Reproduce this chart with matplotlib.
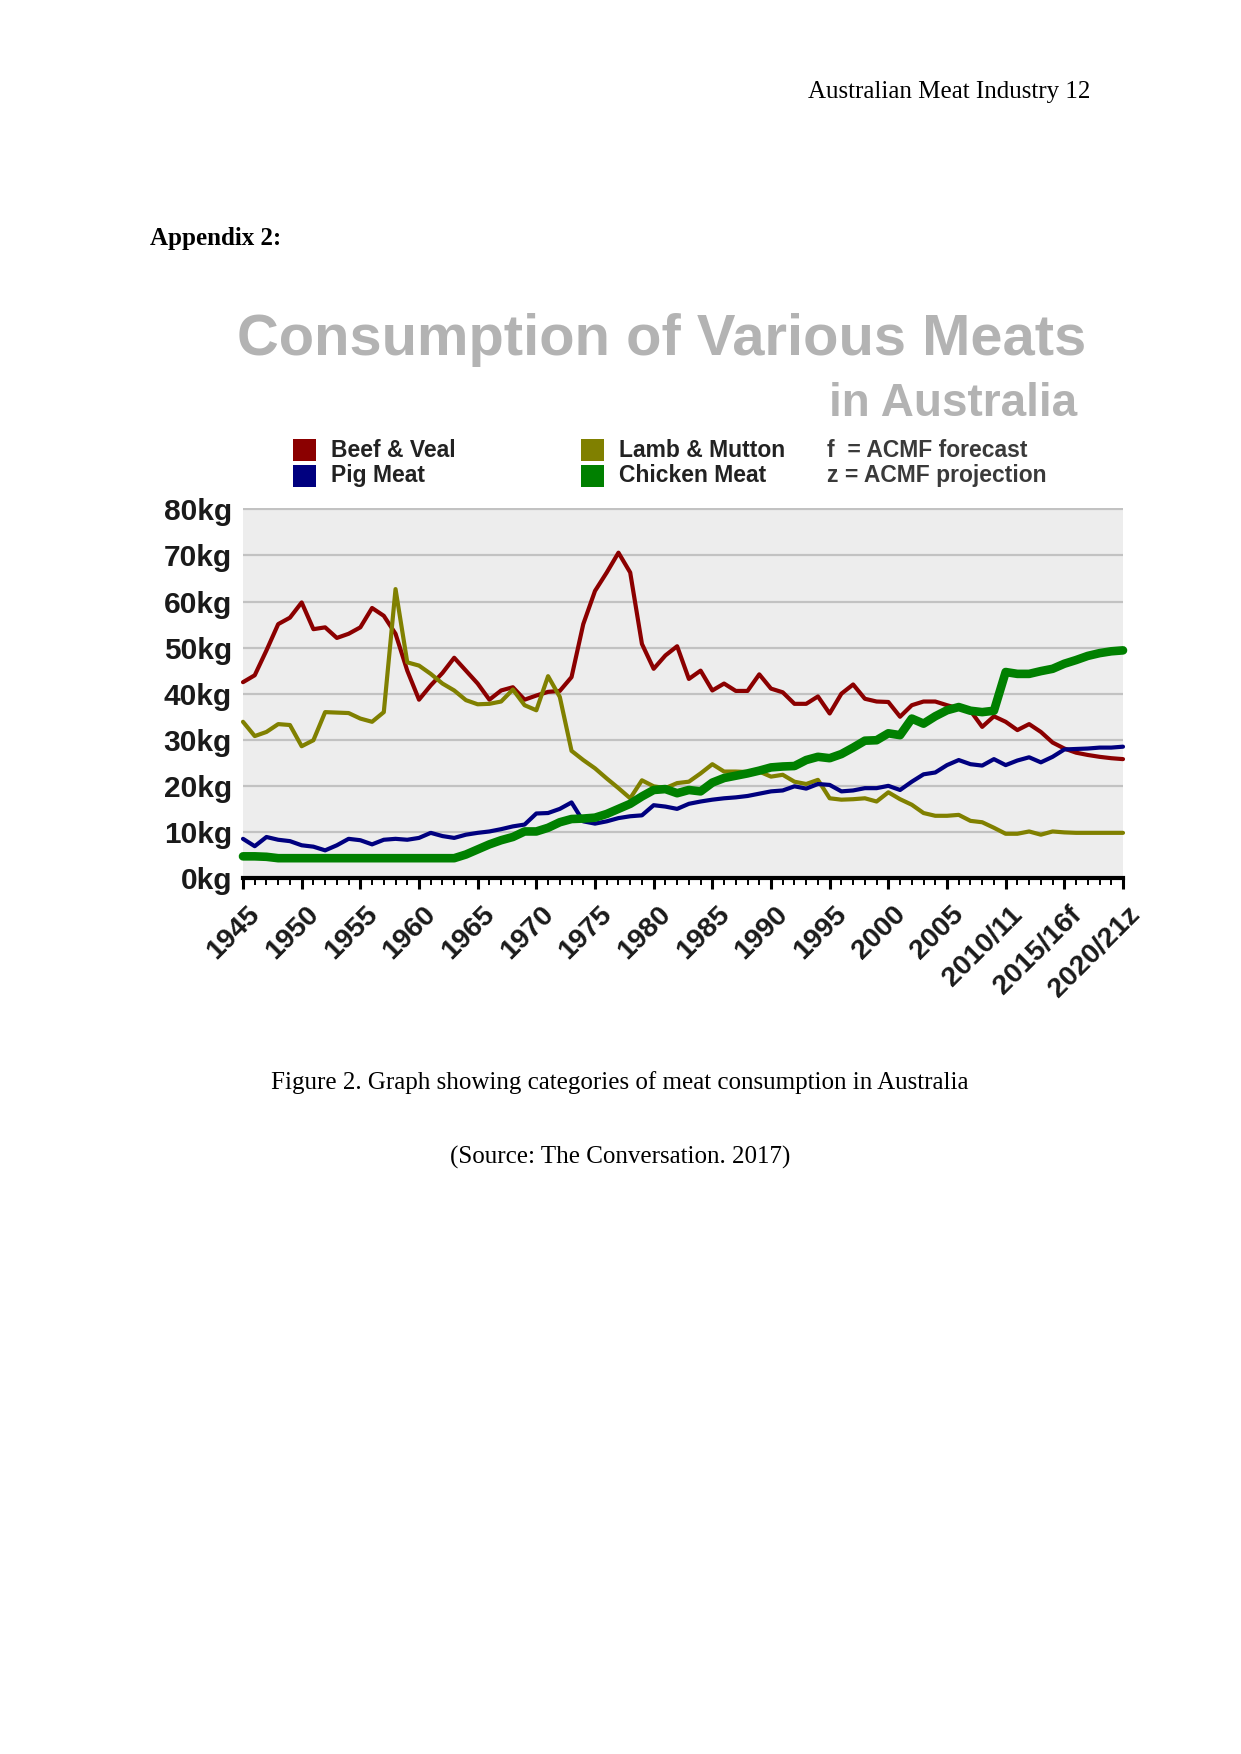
import matplotlib
matplotlib.use("Agg")
import matplotlib.pyplot as plt
from matplotlib.ticker import MultipleLocator
from matplotlib.patches import Rectangle
import matplotlib.transforms as mtransforms

# per capita consumption (kg), 1945 .. 2020/21
years = list(range(1945, 2021))

beef = [42.5, 44.0, 49.4, 55.1, 56.5, 59.8, 54.0, 54.4, 52.1, 53.0,
        54.4, 58.6, 56.9, 53.0, 45.0, 38.7, 41.8, 44.5, 47.8, 45.0,
        42.2, 38.7, 40.7, 41.4, 38.7, 39.6, 40.4, 40.6, 43.6, 55.1,
        62.3, 66.3, 70.6, 66.3, 50.8, 45.4, 48.3, 50.3, 43.2, 45.0,
        40.7, 42.2, 40.6, 40.6, 44.2, 41.1, 40.3, 37.8, 37.8, 39.4,
        35.7, 40.0, 42.0, 38.9, 38.3, 38.2, 35.0, 37.5, 38.3, 38.3,
        37.5, 36.8, 36.3, 32.8, 35.1, 33.9, 32.1, 33.4, 31.7, 29.4,
        28.1, 27.2, 26.7, 26.3, 26.0, 25.8]

lamb = [33.9, 30.8, 31.7, 33.4, 33.2, 28.6, 29.9, 36.0, 35.9, 35.8,
        34.6, 33.9, 36.0, 62.7, 46.8, 46.1, 44.3, 42.2, 40.7, 38.6,
        37.7, 37.8, 38.3, 40.9, 37.5, 36.4, 43.8, 39.3, 27.6, 25.6,
        23.8, 21.6, 19.5, 17.3, 21.2, 19.9, 19.5, 20.6, 20.9, 22.7,
        24.7, 23.1, 23.1, 23.0, 23.1, 22.0, 22.4, 20.9, 20.4, 21.3,
        17.3, 17.0, 17.1, 17.3, 16.6, 18.6, 17.1, 15.9, 14.1, 13.5,
        13.5, 13.7, 12.4, 12.1, 10.9, 9.6, 9.6, 10.1, 9.4, 10.1,
        9.9, 9.8, 9.8, 9.8, 9.8, 9.8]

pig = [8.5, 6.9, 8.9, 8.3, 8.0, 7.1, 6.8, 6.0, 7.1, 8.5,
       8.2, 7.3, 8.3, 8.5, 8.3, 8.7, 9.8, 9.1, 8.7, 9.4,
       9.8, 10.1, 10.6, 11.2, 11.6, 14.0, 14.1, 15.0, 16.4, 12.3,
       11.8, 12.3, 13.0, 13.4, 13.6, 15.8, 15.5, 15.0, 16.1, 16.6,
       17.0, 17.3, 17.5, 17.8, 18.3, 18.8, 19.0, 19.9, 19.4, 20.4,
       20.2, 18.8, 19.0, 19.5, 19.5, 20.0, 19.1, 20.9, 22.5, 22.9,
       24.5, 25.6, 24.7, 24.4, 25.8, 24.5, 25.5, 26.2, 25.1, 26.3,
       27.9, 28.0, 28.1, 28.3, 28.3, 28.5]

chicken = [4.7, 4.7, 4.6, 4.3, 4.3, 4.3, 4.3, 4.3, 4.3, 4.3,
           4.3, 4.3, 4.3, 4.3, 4.3, 4.3, 4.3, 4.3, 4.3, 5.1,
           6.2, 7.3, 8.2, 8.9, 10.1, 10.1, 10.9, 12.1, 12.8, 12.9,
           13.1, 13.9, 15.0, 16.1, 17.7, 19.1, 19.3, 18.4, 19.1, 18.8,
           20.7, 21.7, 22.2, 22.7, 23.3, 24.0, 24.2, 24.3, 25.6, 26.3,
           26.0, 26.9, 28.3, 29.8, 29.9, 31.4, 31.0, 34.6, 33.5, 35.1,
           36.4, 37.1, 36.3, 36.0, 36.3, 44.7, 44.3, 44.3, 44.9, 45.4,
           46.5, 47.3, 48.2, 48.8, 49.2, 49.4]

tick_years = list(range(1945, 2021, 5))
tick_labels = ["1945", "1950", "1955", "1960", "1965", "1970", "1975", "1980",
               "1985", "1990", "1995", "2000", "2005", "2010/11", "2015/16f", "2020/21z"]
y_ticks = [0, 10, 20, 30, 40, 50, 60, 70, 80]

W, H = 1241, 1754
SANS = "Liberation Sans"
SERIF = "Liberation Serif"


def fx(x):
    return x / W


def fy(y):
    return 1 - y / H


fig = plt.figure(figsize=(W / 100, H / 100), dpi=100)
fig.patch.set_facecolor("white")

# page text
fig.text(fx(1090), fy(92), "Australian Meat Industry 12", ha="right", va="center",
         family=SERIF, fontsize=18, color="black")
fig.text(fx(150), fy(239), "Appendix 2:", ha="left", va="center",
         family=SERIF, fontsize=18, fontweight="bold", color="black")
fig.text(fx(620), fy(1083), "Figure 2. Graph showing categories of meat consumption in Australia",
         ha="center", va="center", family=SERIF, fontsize=18, color="black")
fig.text(fx(620), fy(1157), "(Source: The Conversation. 2017)",
         ha="center", va="center", family=SERIF, fontsize=18, color="black")

# chart title
fig.text(fx(237), fy(340), "Consumption of Various Meats", ha="left", va="center",
         family=SANS, fontsize=41.7, fontweight="bold", color="#b3b3b3")
fig.text(fx(1077), fy(404), "in Australia", ha="right", va="center",
         family=SANS, fontsize=33, fontweight="bold", color="#b3b3b3")

# legend (drawn by hand like the original graphic)
legend_items = [
    ("Beef & Veal", "#8b0000", 293, 450),
    ("Pig Meat", "#00007f", 293, 476),
    ("Lamb & Mutton", "#808000", 581, 450),
    ("Chicken Meat", "#008000", 581, 476),
]
for label, col, lx, ly in legend_items:
    fig.patches.append(Rectangle((fx(lx), fy(ly + 11)), 23 / W, 22 / H,
                                 transform=fig.transFigure, facecolor=col,
                                 edgecolor="none"))
    fig.text(fx(lx + 38), fy(ly), label, ha="left", va="center", family=SANS,
             fontsize=16.5, fontweight="bold", color="#222222")
fig.text(fx(827), fy(450), "f  = ACMF forecast", ha="left", va="center", family=SANS,
         fontsize=16.5, fontweight="bold", color="#3a3a3a")
fig.text(fx(827), fy(476), "z = ACMF projection", ha="left", va="center", family=SANS,
         fontsize=16.5, fontweight="bold", color="#3a3a3a")

# plot area
ax = fig.add_axes([fx(243), fy(878), (1123 - 243) / W, (878 - 508) / H])
ax.set_facecolor("#ededed")
ax.set_xlim(1945, 2020)
ax.set_ylim(0, 80.3)

ax.set_yticks(y_ticks)
ax.set_yticklabels([f"{v}kg" for v in y_ticks])
ax.yaxis.grid(True, color="#c2c2c2", linewidth=1.6)
ax.set_axisbelow(True)

ax.plot(years, beef, color="#8b0000", lw=3.0, solid_joinstyle="round",
        solid_capstyle="round", clip_on=False, zorder=3)
ax.plot(years, lamb, color="#808000", lw=3.0, solid_joinstyle="round",
        solid_capstyle="round", clip_on=False, zorder=3)
ax.plot(years, pig, color="#00007f", lw=3.0, solid_joinstyle="round",
        solid_capstyle="round", clip_on=False, zorder=3)
ax.plot(years, chicken, color="#008000", lw=6.2, solid_joinstyle="round",
        solid_capstyle="round", clip_on=False, zorder=4)

for side in ["left", "right", "top"]:
    ax.spines[side].set_visible(False)
ax.spines["bottom"].set_linewidth(3)
ax.spines["bottom"].set_color("black")
ax.spines["bottom"].set_zorder(5)

ax.set_xticks(tick_years)
ax.xaxis.set_minor_locator(MultipleLocator(1))
ax.set_xticklabels(tick_labels, rotation=45, ha="right", va="top",
                   rotation_mode="anchor")
ax.tick_params(axis="x", which="major", length=8, width=2.2, direction="out",
               pad=9, labelsize=20.5, colors="black")
ax.tick_params(axis="x", which="minor", length=5, width=1.4, direction="out",
               colors="black")
ax.tick_params(axis="y", length=0, pad=8, labelsize=21.5, labelcolor="#1a1a1a")
for lab in ax.get_xticklabels() + ax.get_yticklabels():
    lab.set_family(SANS)
    lab.set_fontweight("bold")
for lab in ax.get_xticklabels():
    lab.set_color("#1a1a1a")
    lab.set_transform(lab.get_transform() + mtransforms.ScaledTranslation(
        4 / 100, 0, fig.dpi_scale_trans))

fig.savefig("out.png", dpi=100, facecolor="white")
